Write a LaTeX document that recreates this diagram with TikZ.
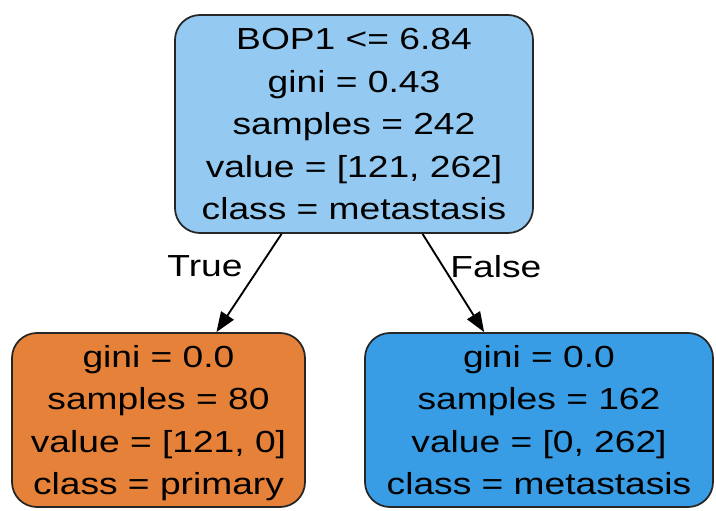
\documentclass[tikz,border=0pt]{standalone}
\usepackage{fontspec}
\setmainfont[FakeStretch=1.22]{Liberation Sans}
\usetikzlibrary{arrows.meta}

\begin{document}
\begin{tikzpicture}[
  x=0.03cm,y=-0.03cm,
  treenode/.style={draw=black!85,line width=1.5pt,rounded corners=0.75cm,
    align=center,font=\fontsize{26}{36.3}\selectfont,text depth=0pt,
    inner sep=0pt},
  splitnode/.style={treenode,fill=rootblue,minimum width=10.74cm,minimum height=6.54cm},
  leafprimary/.style={treenode,fill=leaforange,minimum width=8.79cm,minimum height=5.22cm},
  leafmeta/.style={treenode,fill=leafblue,minimum width=10.44cm,minimum height=5.22cm},
  edgelab/.style={font=\fontsize{26}{36.3}\selectfont,inner sep=0pt},
  branch/.style={draw=black,line width=1.6pt,-{Triangle[length=0.6cm,width=0.45cm]}}]

\definecolor{rootblue}{HTML}{94CAF1}
\definecolor{leaforange}{HTML}{E58139}
\definecolor{leafblue}{HTML}{399DE5}

\useasboundingbox (0,0) rectangle (716,511);

\node[splitnode] (root) at (354,124)
  {BOP1 <= 6.84\\gini = 0.43\\samples = 242\\value = [121, 262]\\class = metastasis};

\node[leafprimary] (primary) at (158.5,420)
  {gini = 0.0\\samples = 80\\value = [121, 0]\\class = primary};
\node[leafmeta] (metastasis) at (539,420)
  {gini = 0.0\\samples = 162\\value = [0, 262]\\class = metastasis};

\draw[branch] (root) -- node[edgelab,pos=0.33,left=0.5cm] (truelab) {True} (primary);
\draw[branch] (root) -- node[edgelab,pos=0.33,right=0.2cm] (falselab) {False} (metastasis);
\end{tikzpicture}
\end{document}
